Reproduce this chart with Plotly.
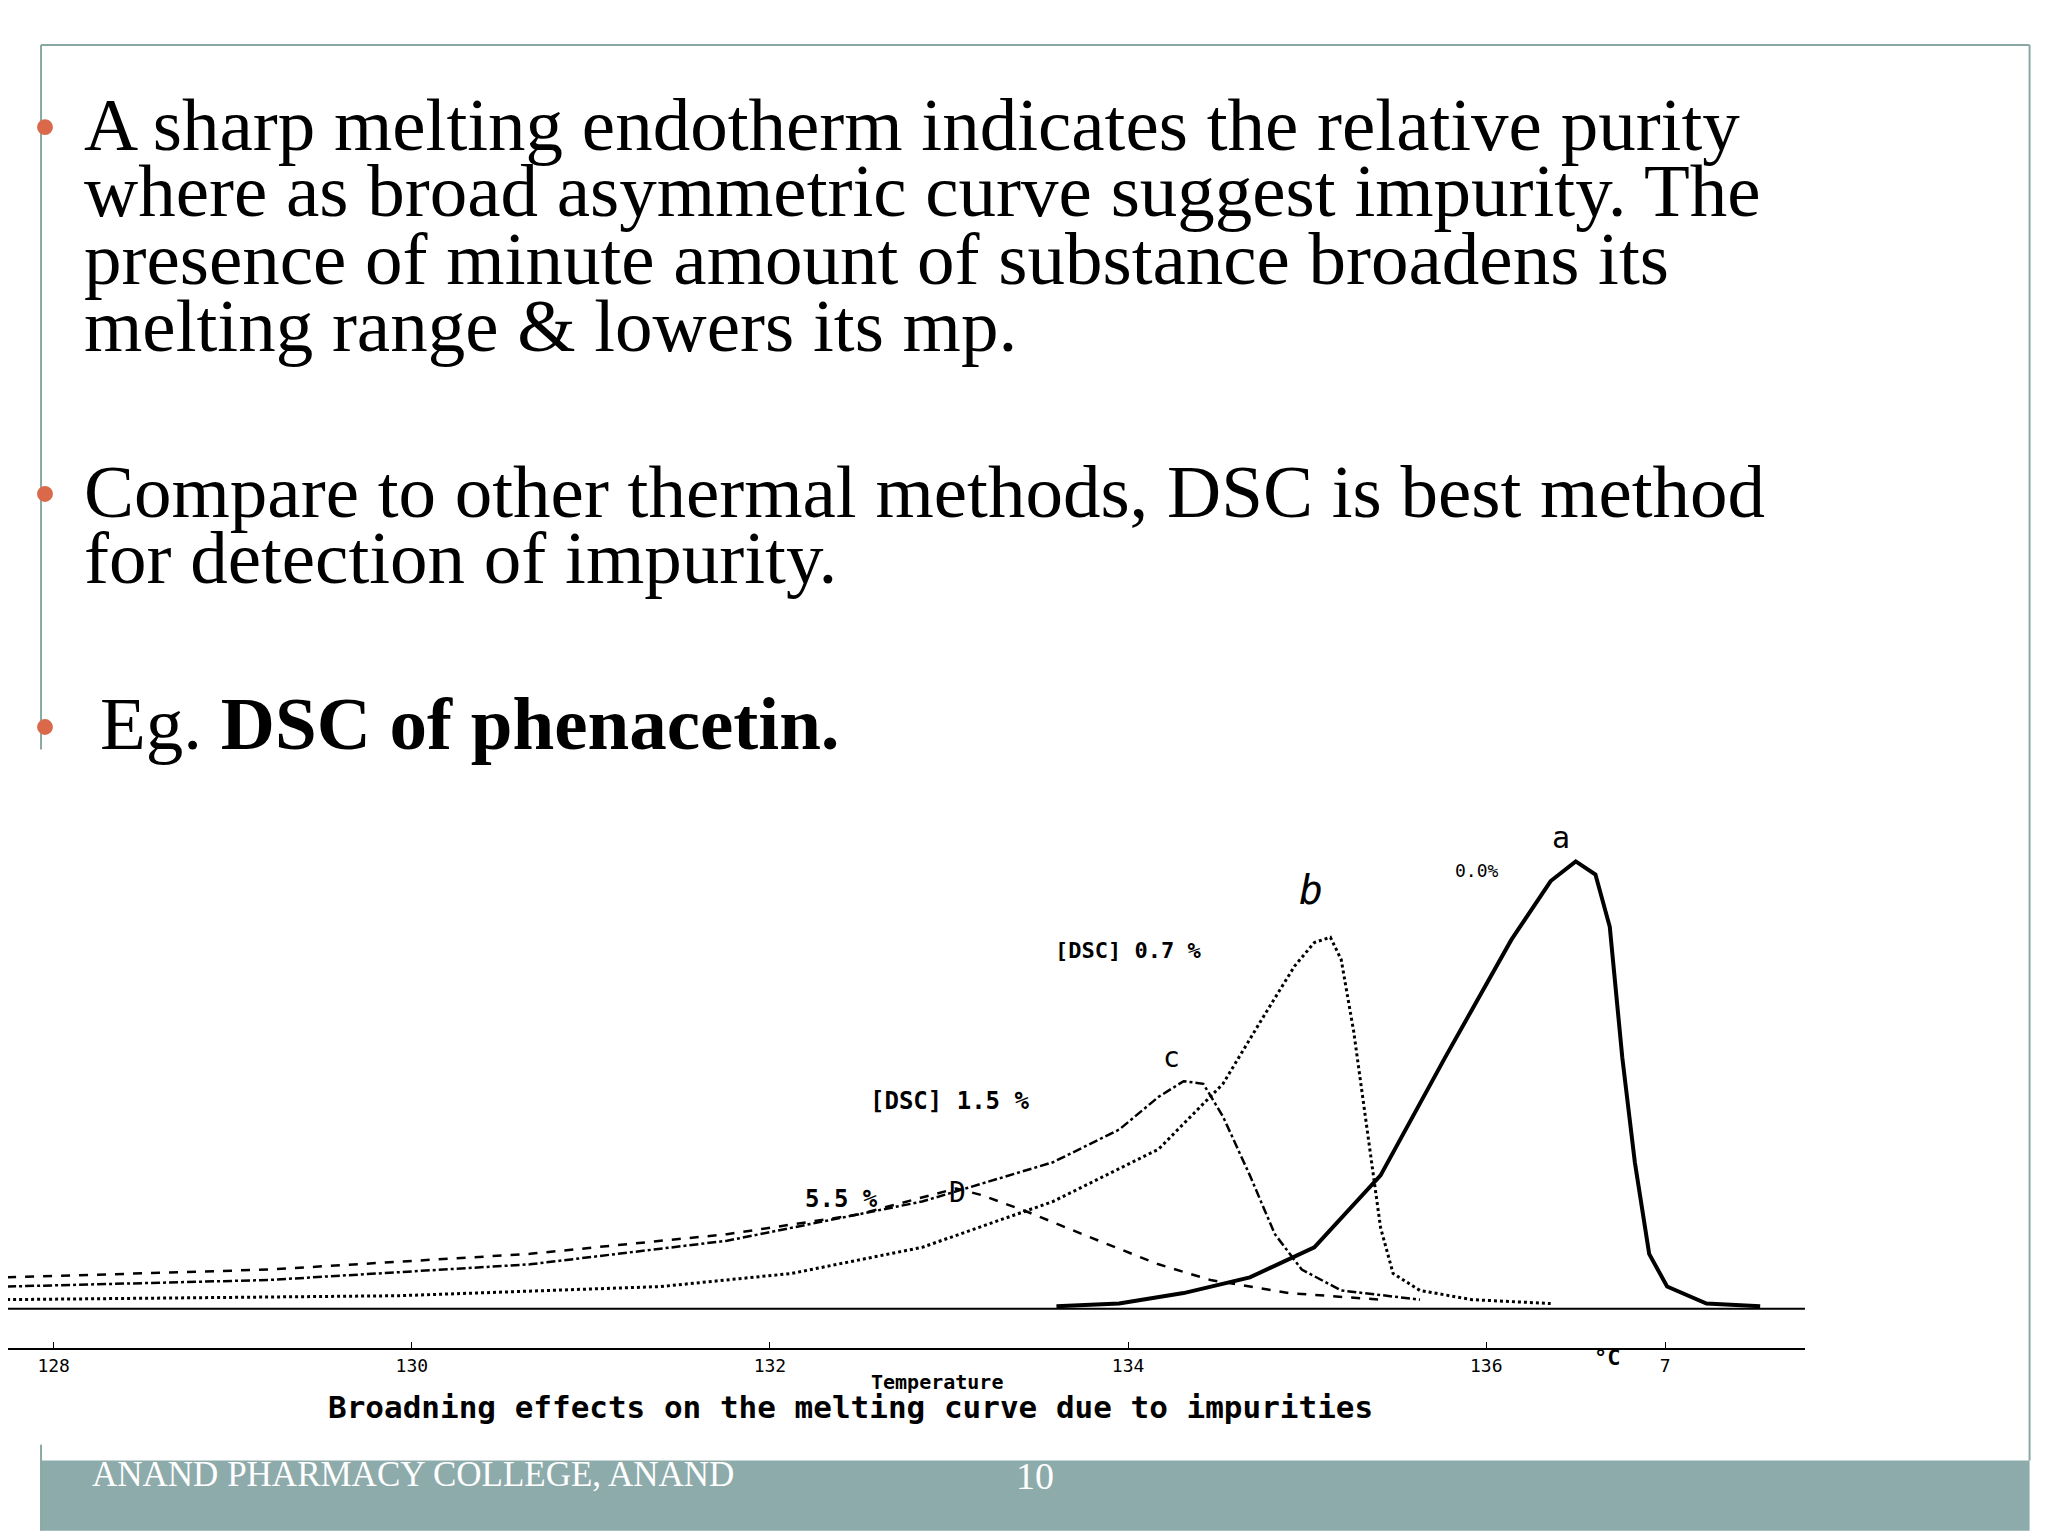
import plotly.graph_objects as go

# DSC curves of phenacetin, temperature (deg C) vs heat flow (arbitrary units)
temp_a = [133.60, 133.95, 134.31, 134.68, 135.04, 135.41, 135.77, 136.14, 136.36, 136.50, 136.61, 136.69, 136.76, 136.83, 136.91, 137.01, 137.23, 137.53]
flow_a = [0, 2, 10, 22, 45, 100, 190, 280, 325, 340, 330, 290, 190, 110, 40, 15, 2, 0]

temp_b = [127.74, 129.93, 131.39, 132.12, 132.85, 133.58, 134.17, 134.53, 134.75, 134.93, 135.04, 135.13, 135.19, 135.26, 135.34, 135.41, 135.48, 135.63, 135.92, 136.36]
flow_b = [5, 8, 15, 25, 45, 80, 120, 170, 220, 260, 278, 282, 265, 210, 130, 60, 25, 12, 5, 2]

temp_c = [127.74, 129.20, 130.66, 131.76, 132.85, 133.58, 133.95, 134.17, 134.31, 134.42, 134.53, 134.68, 134.82, 134.97, 135.19, 135.63]
flow_c = [15, 20, 32, 50, 80, 110, 135, 160, 172, 170, 145, 100, 55, 28, 12, 5]

temp_d = [127.74, 129.20, 130.66, 131.76, 132.49, 132.85, 133.04, 133.18, 133.44, 133.80, 134.17, 134.46, 134.90, 135.41]
flow_d = [22, 28, 40, 55, 70, 83, 90, 85, 72, 52, 32, 20, 10, 5]

temp_base = [127.74, 137.78]
flow_base = [-2, -2]

tick_vals = [128, 130, 132, 134, 136, 137]
tick_text = ["128", "130", "132", "134", "136", "7"]

bullets = [
    ["A sharp melting endotherm indicates the relative purity",
     "where as broad asymmetric curve suggest impurity. The",
     "presence of minute amount of substance broadens its",
     "melting range & lowers its mp."],
    ["Compare to other thermal methods, DSC is best method",
     "for detection of impurity."],
]
bullet_rows = [[88, 138, 189, 240], [365, 415]]

W, H = 1550.0, 1160.0
def px(x): return x / W
def py(y): return 1 - y / H

fig = go.Figure()
fig.add_trace(go.Scatter(x=temp_base, y=flow_base, mode="lines", line=dict(color="black", width=2)))
fig.add_trace(go.Scatter(x=temp_d, y=flow_d, mode="lines", line=dict(color="black", width=2.5, dash="dash")))
fig.add_trace(go.Scatter(x=temp_c, y=flow_c, mode="lines", line=dict(color="black", width=2.5, dash="dashdot")))
fig.add_trace(go.Scatter(x=temp_b, y=flow_b, mode="lines", line=dict(color="black", width=3, dash="dot")))
fig.add_trace(go.Scatter(x=temp_a, y=flow_a, mode="lines", line=dict(color="black", width=4)))

ann = []
serif = "Liberation Serif"
for lines, rows in zip(bullets, bullet_rows):
    for t, y in zip(lines, rows):
        ann.append(dict(x=px(56), y=py(y), xref="paper", yref="paper", text=t, showarrow=False,
                        xanchor="left", yanchor="middle", font=dict(family=serif, size=75, color="black")))
ann.append(dict(x=px(68), y=py(540), xref="paper", yref="paper", text="Eg. <b>DSC of phenacetin.</b>",
                showarrow=False, xanchor="left", yanchor="middle", font=dict(family=serif, size=75, color="black")))

mono = "DejaVu Sans Mono"
chart_labels = [
    (136.42, 358, "a", 30), (135.02, 318, "<i>b</i>", 40), (134.00, 272, "<b>[DSC] 0.7 %</b>", 22),
    (135.95, 333, "0.0%", 18), (134.24, 190, "c", 28), (133.00, 157, "<b>[DSC] 1.5 %</b>", 24),
    (132.40, 82, "<b>5.5 %</b>", 24), (133.05, 87, "D", 28),
]
for x, y, t, s in chart_labels:
    ann.append(dict(x=x, y=y, text=t, showarrow=False, font=dict(family=mono, size=s, color="black")))
ann.append(dict(x=px(703), y=py(1048), xref="paper", yref="paper", text="<b>Temperature</b>", showarrow=False,
                font=dict(family=mono, size=20, color="black")))
ann.append(dict(x=px(1222), y=py(1030), xref="paper", yref="paper", text="<b>°C</b>", showarrow=False,
                font=dict(family=mono, size=22, color="black")))
ann.append(dict(x=px(638), y=py(1072), xref="paper", yref="paper",
                text="<b>Broadning effects on the melting curve due to impurities</b>", showarrow=False,
                font=dict(family=mono, size=31, color="black")))
ann.append(dict(x=px(62), y=py(1124), xref="paper", yref="paper", text="ANAND PHARMACY COLLEGE, ANAND",
                showarrow=False, xanchor="left", font=dict(family=serif, size=35, color="white")))
ann.append(dict(x=px(777), y=py(1126), xref="paper", yref="paper", text="10",
                showarrow=False, font=dict(family=serif, size=38, color="white")))

border = "#8AA8A3"
shapes = [
    dict(type="rect", xref="paper", yref="paper", x0=px(25), x1=px(1530), y0=py(1150), y1=py(1097),
         fillcolor="#8EABAB", line=dict(width=0)),
    dict(type="line", xref="paper", yref="paper", x0=px(25), x1=px(1530), y0=py(28), y1=py(28), line=dict(color=border, width=2)),
    dict(type="line", xref="paper", yref="paper", x0=px(1530), x1=px(1530), y0=py(28), y1=py(1097), line=dict(color=border, width=2)),
    dict(type="line", xref="paper", yref="paper", x0=px(25), x1=px(25), y0=py(28), y1=py(560), line=dict(color=border, width=2)),
    dict(type="line", xref="paper", yref="paper", x0=px(25), x1=px(25), y0=py(1085), y1=py(1150), line=dict(color=border, width=2)),
]
for y in [90, 367, 543]:
    shapes.append(dict(type="circle", xref="paper", yref="paper", x0=px(22), x1=px(34), y0=py(y + 6), y1=py(y - 6),
                       fillcolor="#D9694A", line=dict(width=0)))

fig.update_layout(
    width=2048, height=1536, margin=dict(l=0, r=0, t=0, b=0),
    paper_bgcolor="white", plot_bgcolor="white", showlegend=False,
    annotations=ann, shapes=shapes,
    xaxis=dict(domain=[0, px(1360)], range=[127.745, 137.78], tickvals=tick_vals, ticktext=tick_text,
               showgrid=False, zeroline=False, showline=True, linecolor="black", linewidth=2,
               ticks="inside", ticklen=6, tickcolor="black",
               tickfont=dict(family=mono, size=18, color="black")),
    yaxis=dict(domain=[py(1012), py(605)], range=[-32, 380], visible=False),
)
fig.write_html("out.html")
